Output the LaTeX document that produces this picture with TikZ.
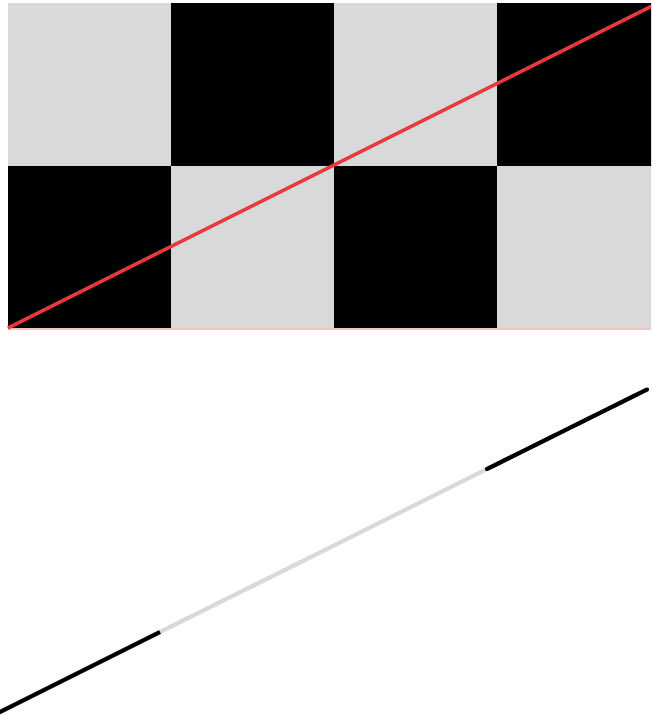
\documentclass[tikz,border=0pt]{standalone}
\definecolor{cellgray}{HTML}{D9D9D9}
\definecolor{linered}{HTML}{E8393A}
\tikzset{
  lightcell/.style={fill=cellgray},
  darkcell/.style={fill=black},
  profileseg/.style={line width=4.2pt, line cap=round},
}
\begin{document}
\begin{tikzpicture}[x=1pt,y=-1pt]
\useasboundingbox (0,0) rectangle (651,717);
\clip (0,0) rectangle (651,717);
% checkerboard
\fill[lightcell] (8,3) rectangle (171,165.5);
\fill[darkcell]  (171,3) rectangle (334,165.5);
\fill[lightcell] (334,3) rectangle (497,165.5);
\fill[darkcell]  (497,3) rectangle (660,165.5);
\fill[darkcell]  (8,165.5) rectangle (171,328);
\fill[lightcell] (171,165.5) rectangle (334,328);
\fill[darkcell]  (334,165.5) rectangle (497,328);
\fill[lightcell] (497,165.5) rectangle (660,328);
% faint bottom edge
\draw[linered, opacity=0.3, line width=1.2pt] (8,329) -- (660,329);
% red diagonal
\coordinate (a) at (8,328);
\coordinate (b) at (660,2);
\draw[linered, line width=3.4pt] (a) -- (b);
% profile line
\coordinate (p0) at (-3,713.5);
\coordinate (p1) at (160,632);
\coordinate (p2) at (324,550.5);
\coordinate (p3) at (487,469);
\coordinate (p4) at (647,389.5);
\draw[profileseg, cellgray] (p1) -- (p2);
\draw[profileseg, cellgray] (p2) -- (p3);
\draw[profileseg, black, line cap=butt] (p0) -- (p1);
\draw[profileseg, black] (p3) -- (p4);
\end{tikzpicture}
\end{document}
